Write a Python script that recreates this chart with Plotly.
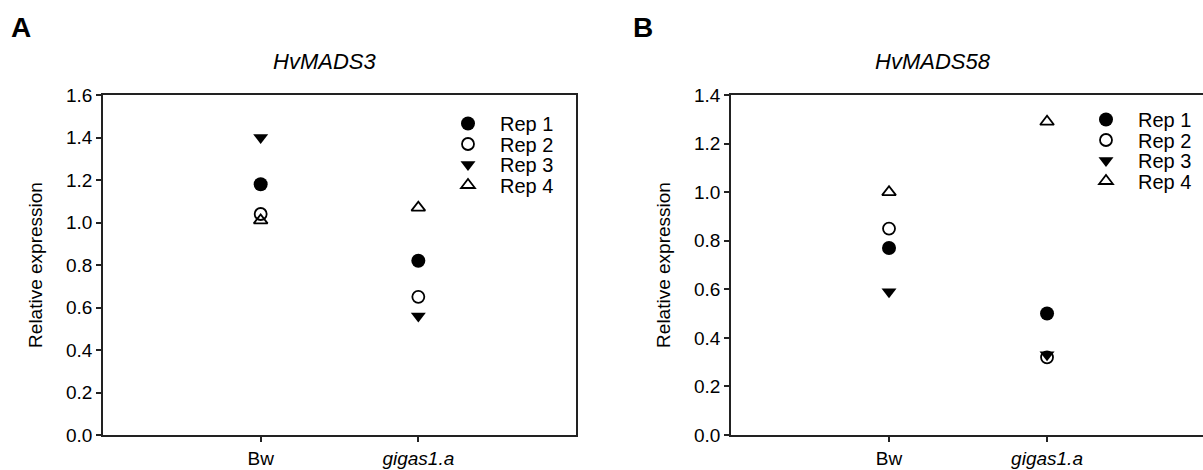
import plotly.graph_objects as go

categories = ["Bw", "gigas1.a"]
tick_labels = ["Bw", "<i>gigas1.a</i>"]
rep_names = ["Rep 1", "Rep 2", "Rep 3", "Rep 4"]

# HvMADS3 (panel A)
a_rep1 = [1.18, 0.82]
a_rep2 = [1.04, 0.65]
a_rep3 = [1.40, 0.56]
a_rep4 = [1.01, 1.07]

# HvMADS58 (panel B)
b_rep1 = [0.77, 0.50]
b_rep2 = [0.85, 0.32]
b_rep3 = [0.59, 0.33]
b_rep4 = [1.00, 1.29]

styles = [
    dict(symbol="circle", size=14, color="black", line=dict(width=0)),
    dict(symbol="circle-open", size=12, color="black", line=dict(width=1.8)),
    dict(symbol="triangle-down", size=13, color="black", line=dict(width=0)),
    dict(symbol="triangle-up-open", size=12, color="black", line=dict(width=1.8)),
]

W, H = 1203, 470
FONT = "Liberation Sans, Arial, sans-serif"


def px_x(p):
    return p / W


def px_y(p):
    return 1 - p / H


fig = go.Figure()

legend_layout = {}
# legend rows (pixel centres) for each panel
rows_a = [123.5, 144, 164.5, 185]
rows_b = [119.5, 140, 160.5, 181]
leg_left_a = 436
leg_left_b = 1074
ITEMW = 54

k = 0
for vals, name, st, ry in zip([a_rep1, a_rep2, a_rep3, a_rep4], rep_names, styles, rows_a):
    k += 1
    lid = "legend" if k == 1 else f"legend{k}"
    fig.add_trace(go.Scatter(x=categories, y=vals, mode="markers", name=name,
                             marker=st, xaxis="x", yaxis="y", legend=lid))
    legend_layout[lid] = dict(x=px_x(leg_left_a), y=px_y(ry), xanchor="left", yanchor="middle",
                              bgcolor="rgba(0,0,0,0)", itemwidth=ITEMW,
                              font=dict(family=FONT, size=20, color="black"))
for vals, name, st, ry in zip([b_rep1, b_rep2, b_rep3, b_rep4], rep_names, styles, rows_b):
    k += 1
    lid = f"legend{k}"
    fig.add_trace(go.Scatter(x=categories, y=vals, mode="markers", name=name,
                             marker=st, xaxis="x2", yaxis="y2", legend=lid))
    legend_layout[lid] = dict(x=px_x(leg_left_b), y=px_y(ry), xanchor="left", yanchor="middle",
                              bgcolor="rgba(0,0,0,0)", itemwidth=ITEMW,
                              font=dict(family=FONT, size=20, color="black"))

axis_common = dict(showline=True, linecolor="#222", linewidth=1.5, ticks="outside",
                   ticklen=5, tickwidth=1.5, tickcolor="#222", showgrid=False,
                   zeroline=False, automargin=False,
                   tickfont=dict(family=FONT, size=19, color="black"))

ydom = [px_y(435), px_y(95)]
ytitle = dict(text="Relative expression", font=dict(family=FONT, size=19, color="black"), standoff=18)

fig.update_layout(
    template="none",
    width=W, height=H, margin=dict(l=0, r=0, t=0, b=0, pad=0),
    paper_bgcolor="white", plot_bgcolor="white",
    font=dict(family=FONT, color="black"),
    xaxis=dict(domain=[px_x(103), px_x(576)], type="category", range=[-1, 2],
               tickvals=categories, ticktext=tick_labels, mirror=True, anchor="y",
               **axis_common),
    yaxis=dict(domain=ydom, range=[0, 1.6], tickvals=[0, 0.2, 0.4, 0.6, 0.8, 1.0, 1.2, 1.4, 1.6],
               tickformat=".1f", mirror=True, anchor="x", title=ytitle, **axis_common),
    xaxis2=dict(domain=[px_x(731), 1.0], type="category", range=[-1, 1.987],
                tickvals=categories, ticktext=tick_labels, mirror=True, anchor="y2",
                **axis_common),
    yaxis2=dict(domain=ydom, range=[0, 1.4], tickvals=[0, 0.2, 0.4, 0.6, 0.8, 1.0, 1.2, 1.4],
                tickformat=".1f", mirror=False, anchor="x2", title=ytitle, **axis_common),
    showlegend=True,
    annotations=[
        dict(text="<b>A</b>", x=px_x(9), y=px_y(27), xref="paper", yref="paper",
             xanchor="left", yanchor="middle", showarrow=False,
             font=dict(family=FONT, size=28, color="black")),
        dict(text="<b>B</b>", x=px_x(631), y=px_y(27), xref="paper", yref="paper",
             xanchor="left", yanchor="middle", showarrow=False,
             font=dict(family=FONT, size=28, color="black")),
        dict(text="<i>HvMADS3</i>", x=px_x(324), y=px_y(61), xref="paper", yref="paper",
             xanchor="center", yanchor="middle", showarrow=False,
             font=dict(family=FONT, size=22, color="black")),
        dict(text="<i>HvMADS58</i>", x=px_x(933), y=px_y(61), xref="paper", yref="paper",
             xanchor="center", yanchor="middle", showarrow=False,
             font=dict(family=FONT, size=22, color="black")),
    ],
    **legend_layout,
)

fig.write_html("out.html")
